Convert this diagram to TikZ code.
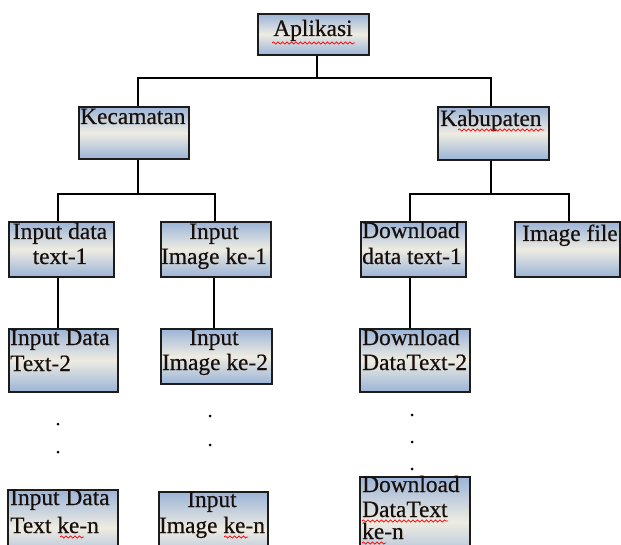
\documentclass[tikz,border=0pt]{standalone}
\usepackage{fontspec}
\setmainfont{Liberation Serif}
\newfontfamily\boxfont{Liberation Serif}[FakeBold=0.5]
\usetikzlibrary{decorations.pathmorphing}
\definecolor{boxblue}{RGB}{155,180,215}
\definecolor{boxcream}{RGB}{238,236,226}
\definecolor{edgecol}{RGB}{28,28,28}
\definecolor{txtcol}{RGB}{25,15,10}
\begin{document}
\begin{tikzpicture}[x=1pt,y=-1pt,
  box/.style={draw=edgecol, line width=1.7pt, top color=boxblue, bottom color=boxblue, middle color=boxcream, inner sep=0pt, anchor=north west},
  lbl/.style={font=\boxfont\fontsize{23.4}{26}\selectfont, inner sep=0pt, text=txtcol},
  lc/.style={lbl, anchor=base},
  ll/.style={lbl, anchor=base west},
  conn/.style={line width=1.6pt, draw=black},
  spell/.style={draw=red, line width=0.7pt, decorate, decoration={snake, amplitude=1.1pt, segment length=4.5pt}},
  dotm/.style={fill=black, circle, inner sep=0pt, minimum size=3pt}]
\useasboundingbox (0,0) rectangle (621,545);
\clip (0,0) rectangle (621,545);

% boxes
\node[box, minimum width=111, minimum height=41] (apl) at (257,13) {};
\node[box, minimum width=110, minimum height=52] (kec) at (78,106) {};
\node[box, minimum width=111, minimum height=53] (kab) at (437,106) {};
\node[box, minimum width=105, minimum height=55] (r3a) at (8,221) {};
\node[box, minimum width=110, minimum height=55] (r3b) at (160,221) {};
\node[box, minimum width=105, minimum height=55] (r3c) at (360,221) {};
\node[box, minimum width=105, minimum height=55] (r3d) at (514,221) {};
\node[box, minimum width=109, minimum height=63] (r4a) at (8,328) {};
\node[box, minimum width=111, minimum height=55] (r4b) at (160,328) {};
\node[box, minimum width=110, minimum height=63] (r4c) at (359,328) {};
\node[box, minimum width=110, minimum height=75] (r5a) at (7,489) {};
\node[box, minimum width=109, minimum height=75] (r5b) at (158,491) {};
\node[box, minimum width=110, minimum height=90] (r5c) at (359,476) {};

% texts
\node[lc] (tapl) at (313,36) {Aplikasi};
\node[ll] (tkec) at (80,124) {Kecamatan};
\node[ll] (tkab) at (440,126) {Kabupaten};
\node[lc] (t3a1) at (60,239) {Input data};
\node[lc] (t3a2) at (60,264) {text-1};
\node[lc] (t3b1) at (214,239) {Input};
\node[lc] (t3b2) at (214,264) {Image ke-1};
\node[ll] (t3c1) at (362,238) {Download};
\node[ll] (t3c2) at (362,264) {data text-1};
\node[ll] (t3d1) at (522,241) {Image file};
\node[ll] (t4a1) at (10,345) {Input Data};
\node[ll] (t4a2) at (10,371) {Text-2};
\node[lc] (t4b1) at (214,345) {Input};
\node[lc] (t4b2) at (215,370) {Image ke-2};
\node[ll] (t4c1) at (362,345) {Download};
\node[ll] (t4c2) at (362,370) {DataText-2};
\node[ll] (t5a1) at (10,505) {Input Data};
\node[ll] (t5a2) at (10,533) {Text ke-n};
\node[lc] (t5b1) at (212,507) {Input};
\node[lc] (t5b2) at (212,533) {Image ke-n};
\node[ll] (t5c1) at (362,492) {Download};
\node[ll] (t5c2) at (362,517) {DataText};
\node[ll] (t5c3) at (362,539) {ke-n};

% spell-check squiggles
\draw[spell] (272,43) -- (355,43);
\draw[spell] (458,130) -- (544,130);
\draw[spell] (60,537) -- (84,537);
\draw[spell] (224,537) -- (248,537);
\draw[spell] (362,521) -- (448,521);
\draw[spell] (362,543) -- (386,543);

% connector coordinates
\coordinate (b0) at (317,78);
\coordinate (xkec) at (138,0);
\coordinate (xkab) at (491,0);
\coordinate (b1) at (138,194);
\coordinate (b2) at (491,194);
\coordinate (x1) at (58,0);
\coordinate (x2) at (215,0);
\coordinate (x3) at (410,0);
\coordinate (x4) at (569,0);
\coordinate (x2b) at (214,0);

\draw[conn] (apl.south -| b0) -- (b0);
\draw[conn] (kec.north -| xkec) |- (b0) -| (kab.north -| xkab);
\draw[conn] (kec.south -| xkec) -- (b1);
\draw[conn] (r3a.north -| x1) |- (b1) -| (r3b.north -| x2);
\draw[conn] (kab.south -| xkab) -- (b2);
\draw[conn] (r3c.north -| x3) |- (b2) -| (r3d.north -| x4);
\draw[conn] (r3a.south -| x1) -- (r4a.north -| x1);
\draw[conn] (r3b.south -| x2b) -- (r4b.north -| x2b);
\draw[conn] (r3c.south -| x3) -- (r4c.north -| x3);

% dots
\node[dotm] (d1) at (58,424) {};
\node[dotm] (d2) at (58,452) {};
\node[dotm] (d3) at (210,416) {};
\node[dotm] (d4) at (210,445) {};
\node[dotm] (d5) at (412,415) {};
\node[dotm] (d6) at (412,442) {};
\node[dotm] (d7) at (412,469) {};
\end{tikzpicture}
\end{document}
